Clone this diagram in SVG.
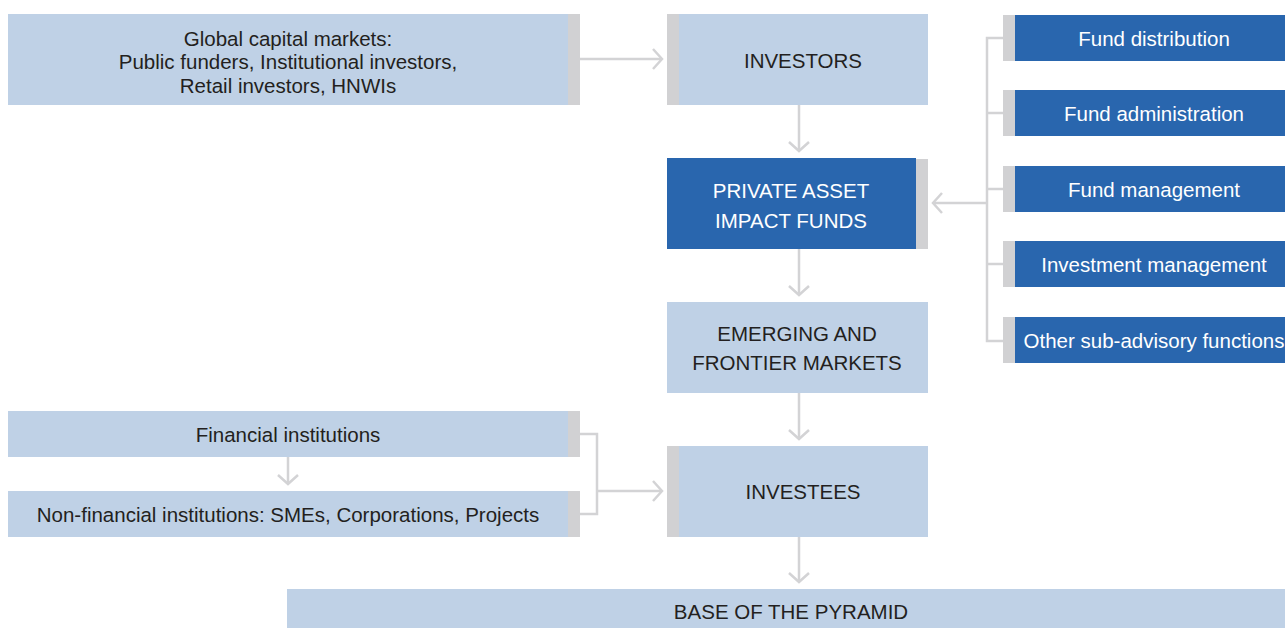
<svg xmlns="http://www.w3.org/2000/svg" width="1285" height="628" viewBox="0 0 1285 628">
<style>
.lb{fill:#bfd1e6}
.db{fill:#2966ae}
.gb{fill:#d1d1d3}
.t{font-family:"Liberation Sans",Arial,sans-serif;font-size:20.5px;text-anchor:middle;fill:#231f20}
.w{fill:#ffffff}
.c{fill:none;stroke:#d3d3d5;stroke-width:2.5}
</style>
<defs>
<marker id="ah" markerUnits="userSpaceOnUse" markerWidth="24" markerHeight="24" viewBox="-12 -12 24 24" refX="0" refY="0" orient="auto">
<path d="M-9,-10 L0,0 L-9,10" fill="none" stroke="#d3d3d5" stroke-width="2.5"/>
</marker>
</defs>
<rect width="1285" height="628" fill="#ffffff"/>
<g id="global">
<rect class="lb" x="8" y="14" width="560" height="91"/>
<rect class="gb" x="568" y="14" width="12" height="91"/>
<text class="t" x="288" y="46">Global capital markets:</text>
<text class="t" x="288" y="69">Public funders, Institutional investors,</text>
<text class="t" x="288" y="93">Retail investors, HNWIs</text>
</g>
<g id="investors">
<rect class="gb" x="667" y="14" width="12" height="91"/>
<rect class="lb" x="679" y="14" width="249" height="91"/>
<text class="t" x="803" y="68">INVESTORS</text>
</g>
<g id="private">
<rect class="db" x="667" y="158" width="249" height="91"/>
<rect class="gb" x="916" y="159" width="12" height="90"/>
<text class="t w" x="791" y="198">PRIVATE ASSET</text>
<text class="t w" x="791" y="228">IMPACT FUNDS</text>
</g>
<g id="emerging">
<rect class="lb" x="667" y="302" width="261" height="91"/>
<text class="t" x="797" y="341">EMERGING AND</text>
<text class="t" x="797" y="370">FRONTIER MARKETS</text>
</g>
<g id="investees">
<rect class="gb" x="667" y="446" width="12" height="91"/>
<rect class="lb" x="679" y="446" width="249" height="91"/>
<text class="t" x="803" y="499">INVESTEES</text>
</g>
<g id="base">
<rect class="lb" x="287" y="589" width="998" height="39"/>
<text class="t" x="791" y="619">BASE OF THE PYRAMID</text>
</g>
<g id="financial">
<rect class="lb" x="8" y="411" width="560" height="46"/>
<rect class="gb" x="568" y="411" width="12" height="46"/>
<text class="t" x="288" y="442">Financial institutions</text>
</g>
<g id="nonfinancial">
<rect class="lb" x="8" y="491" width="560" height="46"/>
<rect class="gb" x="568" y="491" width="12" height="46"/>
<text class="t" x="288" y="522">Non-financial institutions: SMEs, Corporations, Projects</text>
</g>
<g id="fund-distribution">
<rect class="gb" x="1003" y="15" width="12" height="46"/>
<rect class="db" x="1015" y="15" width="270" height="46"/>
<text class="t w" x="1154" y="46">Fund distribution</text>
</g>
<g id="fund-administration">
<rect class="gb" x="1003" y="90" width="12" height="46"/>
<rect class="db" x="1015" y="90" width="270" height="46"/>
<text class="t w" x="1154" y="121">Fund administration</text>
</g>
<g id="fund-management">
<rect class="gb" x="1003" y="166" width="12" height="46"/>
<rect class="db" x="1015" y="166" width="270" height="46"/>
<text class="t w" x="1154" y="197">Fund management</text>
</g>
<g id="investment-management">
<rect class="gb" x="1003" y="241" width="12" height="46"/>
<rect class="db" x="1015" y="241" width="270" height="46"/>
<text class="t w" x="1154" y="272">Investment management</text>
</g>
<g id="other-subadvisory">
<rect class="gb" x="1003" y="317" width="12" height="46"/>
<rect class="db" x="1015" y="317" width="270" height="46"/>
<text class="t w" x="1154" y="348">Other sub-advisory functions</text>
</g>
<g id="connectors">
<path class="c" d="M580,59 H662" marker-end="url(#ah)"/>
<path class="c" d="M799,105 V151" marker-end="url(#ah)"/>
<path class="c" d="M799,249 V295" marker-end="url(#ah)"/>
<path class="c" d="M799,393 V439" marker-end="url(#ah)"/>
<path class="c" d="M799,537 V582" marker-end="url(#ah)"/>
<path class="c" d="M288,457 V484" marker-end="url(#ah)"/>
<path class="c" d="M580,434 H597 V514 H580"/>
<path class="c" d="M597,491 H662" marker-end="url(#ah)"/>
<path class="c" d="M1003,38 H987 V341 H1003 M987,113 H1003 M987,189 H1003 M987,264 H1003"/>
<path class="c" d="M987,203 H933" marker-end="url(#ah)"/>
</g>
</svg>
